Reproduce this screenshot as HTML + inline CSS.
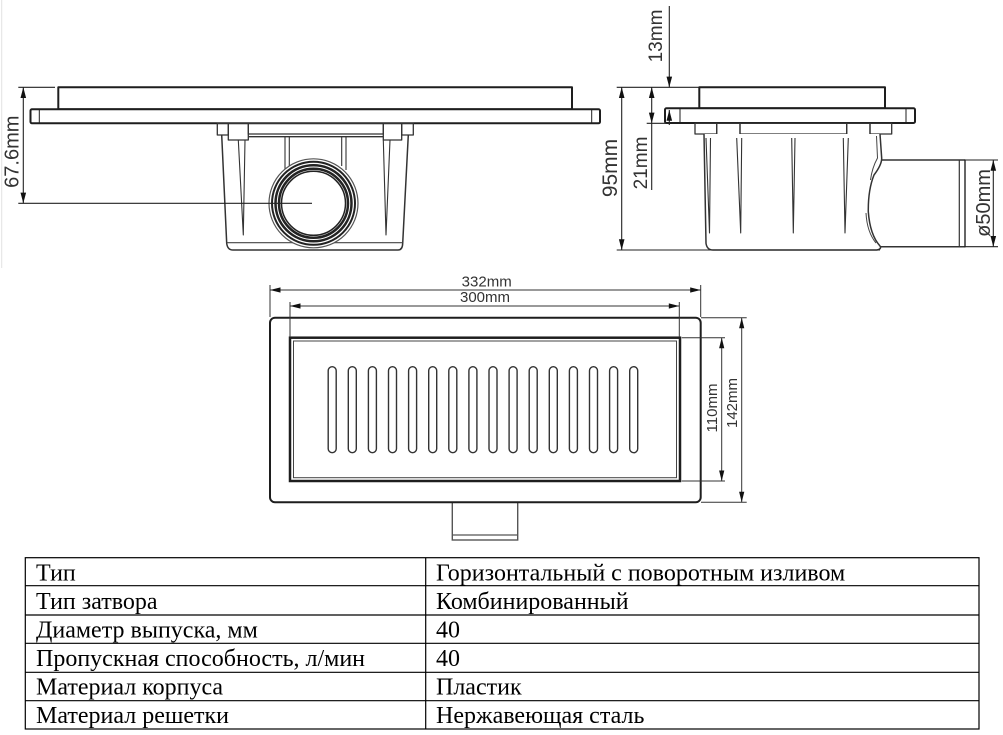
<!DOCTYPE html>
<html><head><meta charset="utf-8"><style>
html,body{margin:0;padding:0;background:#fff;}
svg{display:block;}
</style></head><body>
<svg width="1003" height="735" viewBox="0 0 1003 735" xmlns="http://www.w3.org/2000/svg">
<rect width="1003" height="735" fill="#fff"/>
<line x1="1.7" y1="0" x2="1.7" y2="268" stroke="#e2e2e2" stroke-width="1"/>

<!-- LEFT VIEW -->
<g fill="none" stroke="#1e1e1e" stroke-linejoin="round">
  <rect x="58.3" y="87.3" width="513.7" height="22" stroke-width="2" fill="#fff"/>
  <rect x="30.5" y="109.3" width="569.5" height="14" rx="1.5" stroke-width="2" fill="#fff"/>
  <line x1="39.3" y1="109.3" x2="39.3" y2="123.3" stroke-width="1"/>
  <line x1="591.7" y1="109.3" x2="591.7" y2="123.3" stroke-width="1"/>
  <!-- tabs -->
  <g stroke-width="1.3" stroke="#333">
    <rect x="217.3" y="123.3" width="11" height="11.7"/>
    <rect x="228.3" y="123.3" width="20" height="16.7"/>
    <rect x="248.3" y="123.3" width="135" height="10.7"/>
    <line x1="248.3" y1="136.7" x2="383.3" y2="136.7"/>
    <rect x="383.3" y="123.3" width="18.4" height="16.7"/>
    <rect x="401.7" y="123.3" width="11.6" height="11.7"/>
  </g>
  <!-- body -->
  <path d="M221.7 135 L226.7 243.3 Q227.5 250 233 250 L398 250 Q402.5 250 402.7 243.3 L408.3 135" stroke-width="1.5" stroke="#333"/>
  <line x1="226.7" y1="242.7" x2="402.7" y2="242.7" stroke-width="1.2" stroke="#444"/>
  <!-- ribs -->
  <g stroke-width="1.1" stroke="#333">
    <path d="M238.3 140 L243.3 235 L245 140"/>
    <path d="M383.3 140 L386 235 L390 140"/>
    <line x1="285" y1="137" x2="285" y2="170"/>
    <line x1="289.3" y1="137" x2="289.3" y2="166"/>
    <line x1="341.7" y1="137" x2="341.7" y2="166"/>
    <line x1="346" y1="137" x2="346" y2="170"/>
  </g>
  <!-- pipe -->
  <circle cx="313.5" cy="203.3" r="44.5" stroke="#555" stroke-width="1.2" fill="#fff"/>
  <circle cx="313.5" cy="203.3" r="41.5" stroke="#222" stroke-width="2"/>
  <circle cx="313.5" cy="203.3" r="38" stroke="#222" stroke-width="2.5"/>
  <circle cx="313.5" cy="203.3" r="34.5" stroke="#222" stroke-width="2.5"/>
  <circle cx="313.5" cy="203.3" r="32" stroke="#222" stroke-width="1.5"/>
</g>
<!-- 67.6 dim -->
<g stroke="#222" stroke-width="1.1">
  <line x1="18.3" y1="87.3" x2="55" y2="87.3"/>
  <line x1="18.3" y1="203.3" x2="312" y2="203.3"/>
  <line x1="23.3" y1="87.3" x2="23.3" y2="203.3"/>
</g>
<g fill="#111">
  <polygon points="23.3,87.3 20.5,98 26.1,98"/>
  <polygon points="23.3,203.3 20.5,192.6 26.1,192.6"/>
</g>
<text transform="translate(18.5,151.7) rotate(-90)" text-anchor="middle" font-family="Liberation Sans, sans-serif" font-size="20" fill="#333">67.6mm</text>

<!-- RIGHT VIEW -->
<g fill="none" stroke="#1e1e1e" stroke-linejoin="round">
  <rect x="699.3" y="87.3" width="185.7" height="21" stroke-width="2" fill="#fff"/>
  <rect x="665" y="108.3" width="250" height="14.7" rx="1.5" stroke-width="2" fill="#fff"/>
  <line x1="680" y1="108.3" x2="680" y2="123" stroke-width="1"/>
  <line x1="906" y1="108.3" x2="906" y2="123" stroke-width="1"/>
  <g stroke-width="1.3" stroke="#333">
    <rect x="695" y="123.3" width="21.7" height="10.7"/>
    <rect x="716.7" y="123.3" width="23.3" height="16.7"/>
    <rect x="740" y="123.3" width="106.7" height="10.7"/>
    <line x1="740" y1="136.7" x2="846.7" y2="136.7"/>
    <rect x="846.7" y="123.3" width="23.3" height="16.7"/>
    <rect x="870" y="123.3" width="21.7" height="10.7"/>
  </g>
  <!-- outlet pipe -->
  <path d="M881.7 160 L965 160 L965 246.7 L880 246.7" stroke-width="1.5" stroke="#333" fill="#fff"/>
  <line x1="959.3" y1="160" x2="959.3" y2="246.7" stroke-width="1.2" stroke="#333"/>
  <!-- body -->
  <path d="M704 134 L706 243.3 Q707 250 713 250 L876.7 250 Q882 249 880 246 Q870 235 868.3 211.7 Q868 190 874 175 Q881.7 165 881.7 158.3 L880 134" stroke-width="1.5" stroke="#333" fill="#fff"/>
  <path d="M876.5 136 L877.5 158 Q872 168 870.5 180" stroke-width="1" stroke="#444"/>
  <path d="M866 213 Q867 232 876 243" stroke-width="1" stroke="#444"/>
  <g stroke-width="1.1" stroke="#333">
    <path d="M706 138 L709.5 233 L710.5 138"/>
    <path d="M736.7 138 L740.7 233 L741.7 138"/>
    <path d="M791.7 138 L793.3 233 L795 138"/>
    <path d="M843.3 138 L845 233 L848.3 138"/>
  </g>
</g>
<!-- right view dims -->
<g stroke="#222" stroke-width="1.1">
  <line x1="616.7" y1="87.3" x2="699" y2="87.3"/>
  <line x1="616.7" y1="250" x2="880" y2="250"/>
  <line x1="621.7" y1="87.3" x2="621.7" y2="250"/>
  <line x1="669.3" y1="6" x2="669.3" y2="87.3"/>
  <line x1="669.3" y1="110" x2="669.3" y2="125"/>
  <line x1="646.7" y1="123.3" x2="666" y2="123.3"/>
  <line x1="651.7" y1="87.3" x2="651.7" y2="190"/>
  <line x1="964" y1="160" x2="998" y2="160"/>
  <line x1="964" y1="246.7" x2="998" y2="246.7"/>
  <line x1="993.3" y1="160" x2="993.3" y2="246.7"/>
</g>
<g fill="#111">
  <polygon points="621.7,87.3 618.9,98 624.5,98"/>
  <polygon points="621.7,250 618.9,239.3 624.5,239.3"/>
  <polygon points="669.3,87.3 666.5,76.6 672.1,76.6"/>
  <polygon points="669.3,110 666.5,120.7 672.1,120.7"/>
  <polygon points="651.7,87.3 648.9,98 654.5,98"/>
  <polygon points="651.7,123.3 648.9,112.6 654.5,112.6"/>
  <polygon points="993.3,160 990.5,170.7 996.1,170.7"/>
  <polygon points="993.3,246.7 990.5,236 996.1,236"/>
</g>
<g font-family="Liberation Sans, sans-serif" fill="#333" text-anchor="middle">
  <text transform="translate(617,168) rotate(-90)" font-size="21">95mm</text>
  <text transform="translate(662,36) rotate(-90)" font-size="19">13mm</text>
  <text transform="translate(647,163) rotate(-90)" font-size="19">21mm</text>
  <text transform="translate(990,203) rotate(-90)" font-size="20">ø50mm</text>
</g>

<!-- TOP VIEW -->
<g fill="none" stroke="#1e1e1e">
  <rect x="452.3" y="502.3" width="65.4" height="37.7" stroke="#555" stroke-width="1.4"/>
  <line x1="452.3" y1="535" x2="517.7" y2="535" stroke="#555" stroke-width="1.2"/>
  <rect x="270" y="317.7" width="430.7" height="184.6" rx="5" stroke-width="2" fill="#fff"/>
  <rect x="290" y="337.7" width="390" height="143.3" stroke-width="2.5"/>
  <rect x="293.5" y="341" width="383" height="136.7" stroke-width="1" stroke="#444"/>
  <g stroke-width="1.4" stroke="#333">
    <rect x="328.2" y="366.7" width="8" height="86" rx="4"/>
    <rect x="348.3" y="366.7" width="8" height="86" rx="4"/>
    <rect x="368.4" y="366.7" width="8" height="86" rx="4"/>
    <rect x="388.5" y="366.7" width="8" height="86" rx="4"/>
    <rect x="408.6" y="366.7" width="8" height="86" rx="4"/>
    <rect x="428.7" y="366.7" width="8" height="86" rx="4"/>
    <rect x="448.8" y="366.7" width="8" height="86" rx="4"/>
    <rect x="468.9" y="366.7" width="8" height="86" rx="4"/>
    <rect x="489.0" y="366.7" width="8" height="86" rx="4"/>
    <rect x="509.1" y="366.7" width="8" height="86" rx="4"/>
    <rect x="529.2" y="366.7" width="8" height="86" rx="4"/>
    <rect x="549.3" y="366.7" width="8" height="86" rx="4"/>
    <rect x="569.4" y="366.7" width="8" height="86" rx="4"/>
    <rect x="589.5" y="366.7" width="8" height="86" rx="4"/>
    <rect x="609.6" y="366.7" width="8" height="86" rx="4"/>
    <rect x="629.7" y="366.7" width="8" height="86" rx="4"/>
  </g>
</g>
<g stroke="#333" stroke-width="1">
  <line x1="270" y1="290" x2="700.7" y2="290"/>
  <line x1="270" y1="285" x2="270" y2="317"/>
  <line x1="700.7" y1="285" x2="700.7" y2="317"/>
  <line x1="290" y1="306" x2="679.3" y2="306"/>
  <line x1="290" y1="302" x2="290" y2="337"/>
  <line x1="679.3" y1="302" x2="679.3" y2="337"/>
  <line x1="741.7" y1="317.7" x2="741.7" y2="502.3"/>
  <line x1="701" y1="317.7" x2="746.7" y2="317.7"/>
  <line x1="701" y1="502.3" x2="746.7" y2="502.3"/>
  <line x1="721.7" y1="337.7" x2="721.7" y2="481"/>
  <line x1="681.7" y1="337.7" x2="725" y2="337.7"/>
  <line x1="681.7" y1="481" x2="725" y2="481"/>
</g>
<g fill="#111">
  <polygon points="270,290 280.5,287.4 280.5,292.6"/>
  <polygon points="700.7,290 690.2,287.4 690.2,292.6"/>
  <polygon points="290,306 300.5,303.4 300.5,308.6"/>
  <polygon points="679.3,306 668.8,303.4 668.8,308.6"/>
  <polygon points="741.7,317.7 739.1,328.2 744.3,328.2"/>
  <polygon points="741.7,502.3 739.1,491.8 744.3,491.8"/>
  <polygon points="721.7,337.7 719.1,348.2 724.3,348.2"/>
  <polygon points="721.7,481 719.1,470.5 724.3,470.5"/>
</g>
<g font-family="Liberation Sans, sans-serif" fill="#333" text-anchor="middle" font-size="15">
  <text x="486.7" y="286.5">332mm</text>
  <text x="485" y="302">300mm</text>
  <text transform="translate(737,403) rotate(-90)">142mm</text>
  <text transform="translate(717,408) rotate(-90)">110mm</text>
</g>

<!-- TABLE -->
<g stroke="#000" stroke-width="1.2" fill="none">
  <rect x="25.3" y="557.7" width="953.7" height="171.3"/>
  <line x1="425.7" y1="557.7" x2="425.7" y2="729"/>
  <line x1="25.3" y1="585.7" x2="979" y2="585.7"/>
  <line x1="25.3" y1="615" x2="979" y2="615"/>
  <line x1="25.3" y1="643.3" x2="979" y2="643.3"/>
  <line x1="25.3" y1="672.3" x2="979" y2="672.3"/>
  <line x1="25.3" y1="700.7" x2="979" y2="700.7"/>
</g>
<g font-family="Liberation Serif, 'Noto Serif CJK SC', serif" font-size="24" fill="#000">
  <text x="36" y="580.5">Тип</text>
  <text x="36" y="609">Тип затвора</text>
  <text x="36" y="637.5">Диаметр выпуска, мм</text>
  <text x="36" y="666">Пропускная способность, л/мин</text>
  <text x="36" y="694.5">Материал корпуса</text>
  <text x="36" y="723">Материал решетки</text>
  <text x="436" y="580.5">Горизонтальный с поворотным изливом</text>
  <text x="436" y="609">Комбинированный</text>
  <text x="436" y="637.5">40</text>
  <text x="436" y="666">40</text>
  <text x="436" y="694.5">Пластик</text>
  <text x="436" y="723">Нержавеющая сталь</text>
</g>
</svg>
</body></html>
